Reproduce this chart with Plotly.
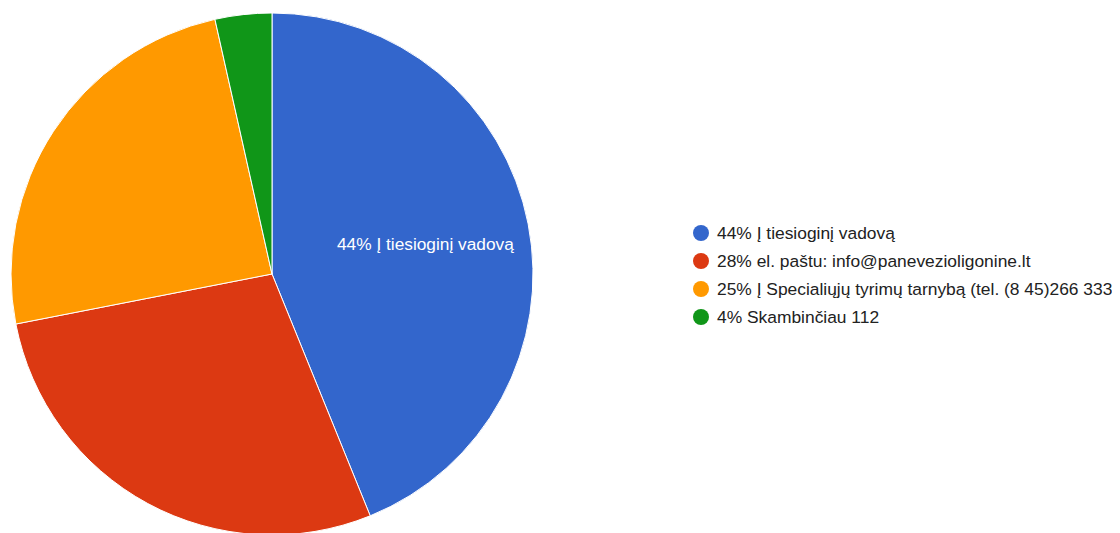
import plotly.graph_objects as go

labels = ["Į tiesioginį vadovą", "el. paštu: info@panevezioligonine.lt",
          "Į Specialiųjų tyrimų tarnybą (tel. (8 45)266 333", "Skambinčiau 112"]
counts = [25, 16, 14, 2]
colors = ["#3366cc", "#dc3912", "#ff9900", "#109618"]

W, H = 1120, 533
OFF = 8  # page body margin
total = sum(counts)
pcts = [round(100 * c / total) for c in counts]
legend_labels = [f"{p}% {l}" for p, l in zip(pcts, labels)]

FONT = "Liberation Sans, Arial, sans-serif"

# pie geometry in screen px
cx, cy, R = 272, 274, 261
fx, fy = cx - OFF, cy - OFF

fig = go.Figure(go.Pie(
    labels=legend_labels,
    values=counts,
    textinfo="none",
    marker=dict(colors=colors, line=dict(color="white", width=1)),
    sort=False,
    direction="clockwise",
    rotation=0,
    showlegend=False,
    domain=dict(x=[(fx - R) / W, (fx + R) / W], y=[1 - (fy + R) / H, 1 - (fy - R) / H]),
    hoverinfo="label+value+percent",
))

# label of largest slice
fig.add_annotation(xref="paper", yref="paper", x=(425 - OFF) / W, y=1 - (244 - OFF) / H,
                   text=legend_labels[0], showarrow=False, xanchor="center", yanchor="middle",
                   font=dict(family=FONT, size=17.3, color="white"))

leg_y = [233, 261, 289, 317]
for lab, col, y in zip(legend_labels, colors, leg_y):
    yp = 1 - (y - OFF) / H
    r = 8
    xc = 701 - OFF
    fig.add_shape(type="circle", xref="paper", yref="paper",
                  x0=(xc - r) / W, x1=(xc + r) / W,
                  y0=yp - r / H, y1=yp + r / H,
                  fillcolor=col, line=dict(width=0))
    fig.add_annotation(xref="paper", yref="paper", x=(715 - OFF) / W, y=yp,
                       text=lab, showarrow=False, xanchor="left", yanchor="middle",
                       font=dict(family=FONT, size=17.4, color="#222222"))

fig.update_layout(
    width=W, height=H,
    margin=dict(l=0, r=0, t=0, b=0),
    paper_bgcolor="white",
    plot_bgcolor="white",
)

fig.write_html("out.html")
